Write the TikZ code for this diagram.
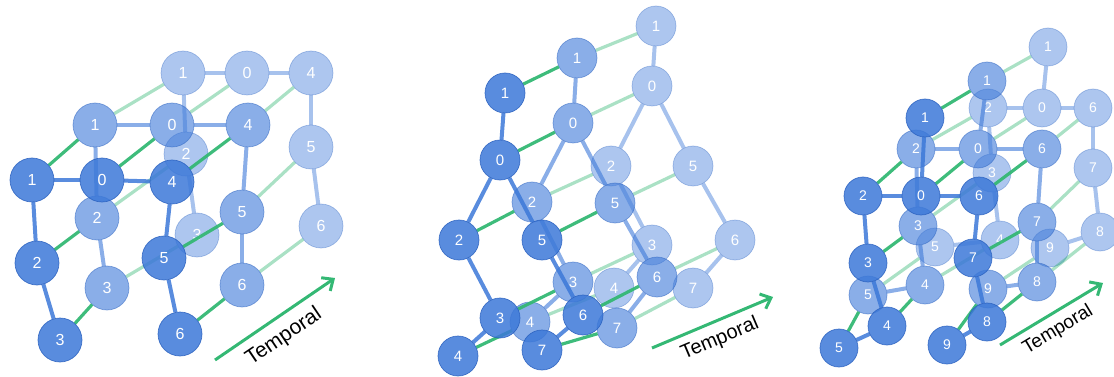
\documentclass[tikz,border=0pt]{standalone}
\usepackage{fontspec}
\setmainfont{Liberation Sans}
\usetikzlibrary{arrows.meta}
\definecolor{nblue}{RGB}{60,120,216}
\definecolor{oblue}{RGB}{40,95,190}
\definecolor{tgreen}{RGB}{52,184,116}
\tikzset{
  nd/.style={circle, inner sep=0pt, text=white, text opacity=1, fill=nblue, draw=oblue, line width=0.7pt},
  hid/.style={circle, inner sep=0pt, draw=none, fill=none},
  pa/.style={minimum size=44pt, font=\fontsize{16}{16}\selectfont},
  pb/.style={minimum size=40pt, font=\fontsize{15}{15}\selectfont},
  pc/.style={minimum size=38pt, font=\fontsize{14}{14}\selectfont},
  lone/.style={fill opacity=0.85, draw opacity=0.8},
  ltwo/.style={fill opacity=0.6, draw opacity=0.5},
  lthree/.style={fill opacity=0.42, draw opacity=0.35},
  eone/.style={draw=nblue, line width=4pt, draw opacity=0.85},
  etwo/.style={draw=nblue, line width=4pt, draw opacity=0.6},
  ethree/.style={draw=nblue, line width=4pt, draw opacity=0.45},
  tone/.style={draw=tgreen, line width=3.2pt, draw opacity=0.95},
  ttwo/.style={draw=tgreen, line width=3.2pt, draw opacity=0.42},
  tarrow/.style={draw=tgreen, line width=3pt, -{Straight Barb[length=9pt,width=16pt,line width=3pt]}},
  tlabel/.style={text=black, inner sep=0pt}
}
\begin{document}
\begin{tikzpicture}[x=1pt,y=-1pt]
\useasboundingbox (0,0) rectangle (1114,377);
% ================= Panel A =================
\foreach \n/\x/\y in {1/183/73,0/247/73,4/311/73,2/186/154,5/311/147,3/197/235,6/321/226}
  \node[hid,pa] (a3n\n) at (\x,\y) {};
\foreach \u/\v in {1/0,0/4,1/2,2/3,4/5,5/6} \draw[ethree] (a3n\u) -- (a3n\v);
\foreach \n/\x/\y in {1/183/73,0/247/73,4/311/73,2/186/154,5/311/147,3/197/235,6/321/226}
  \node[nd,pa,lthree] (a3v\n) at (\x,\y) {\n};
\foreach \n/\x/\y in {1/95/125,0/172/125,4/248/125,2/97/218,5/242/212,3/107/288,6/242/285}
  \node[hid,pa] (a2n\n) at (\x,\y) {};
\foreach \i in {0,...,6} \draw[ttwo] (a2n\i) -- (a3n\i);
\foreach \u/\v in {1/0,0/4,1/2,2/3,4/5,5/6} \draw[etwo] (a2n\u) -- (a2n\v);
\foreach \n/\x/\y in {1/95/125,0/172/125,4/248/125,2/97/218,5/242/212,3/107/288,6/242/285}
  \node[nd,pa,ltwo] (a2v\n) at (\x,\y) {\n};
\foreach \n/\x/\y in {1/32/180,0/102/180,4/172/182,2/37/263,5/164/258,3/60/340,6/180/334}
  \node[hid,pa] (a1n\n) at (\x,\y) {};
\foreach \i in {0,...,6} \draw[tone] (a1n\i) -- (a2n\i);
\foreach \u/\v in {1/0,0/4,1/2,2/3,4/5,5/6} \draw[eone] (a1n\u) -- (a1n\v);
\foreach \n/\x/\y in {1/32/180,0/102/180,4/172/182,2/37/263,5/164/258,3/60/340,6/180/334}
  \node[nd,pa,lone] (a1v\n) at (\x,\y) {\n};
\coordinate (aas) at (215,360);
\coordinate (aae) at (335,278);
\draw[tarrow] (aas) -- (aae);
\node[tlabel, rotate=34, font=\fontsize{21}{21}\selectfont] (atl) at (284,337) {Temporal};
% ================= Panel B =================
\foreach \n/\x/\y in {1/656/26,0/652/86,2/611/166,5/693/166,3/652/245,6/735/240,4/614/288,7/693/288}
  \node[hid,pb] (b3n\n) at (\x,\y) {};
\foreach \u/\v in {1/0,0/2,0/5,2/3,5/6,3/4,6/7} \draw[ethree] (b3n\u) -- (b3n\v);
\foreach \n/\x/\y in {1/656/26,0/652/86,2/611/166,5/693/166,3/652/245,6/735/240,4/614/288,7/693/288}
  \node[nd,pb,lthree] (b3v\n) at (\x,\y) {\n};
\foreach \n/\x/\y in {1/577/58,0/573/123,2/532/202,5/615/203,3/573/282,6/657/277,4/530/322,7/617/328}
  \node[hid,pb] (b2n\n) at (\x,\y) {};
\foreach \i in {0,...,7} \draw[ttwo] (b2n\i) -- (b3n\i);
\foreach \u/\v in {1/0,0/2,0/5,2/3,5/6,3/4,6/7} \draw[etwo] (b2n\u) -- (b2n\v);
\foreach \n/\x/\y in {1/577/58,0/573/123,2/532/202,5/615/203,3/573/282,6/657/277,4/530/322,7/617/328}
  \node[nd,pb,ltwo] (b2v\n) at (\x,\y) {\n};
\foreach \n/\x/\y in {1/505/93,0/500/160,2/459/240,5/542/240,3/500/318,6/583/315,4/458/356,7/542/350}
  \node[hid,pb] (b1n\n) at (\x,\y) {};
\foreach \i in {0,...,7} \draw[tone] (b1n\i) -- (b2n\i);
\foreach \u/\v in {1/0,0/2,0/5,2/3,5/6,3/4,6/7} \draw[eone] (b1n\u) -- (b1n\v);
\foreach \n/\x/\y in {1/505/93,0/500/160,2/459/240,5/542/240,3/500/318,6/583/315,4/458/356,7/542/350}
  \node[nd,pb,lone] (b1v\n) at (\x,\y) {\n};
\coordinate (bas) at (652,348);
\coordinate (bae) at (773,297);
\draw[tarrow] (bas) -- (bae);
\node[tlabel, rotate=23, font=\fontsize{20}{20}\selectfont] (btl) at (720,339) {Temporal};
% ================= Panel C =================
\foreach \n/\x/\y in {1/1048/47,2/988/108,0/1042/108,6/1093/108,3/992/173,7/1093/168,4/1000/240,5/935/247,8/1100/232,9/1050/248}
  \node[hid,pc] (c3n\n) at (\x,\y) {};
\foreach \u/\v in {1/0,2/0,0/6,2/3,3/4,4/5,6/7,7/8,8/9} \draw[ethree] (c3n\u) -- (c3n\v);
\foreach \n/\x/\y in {1/1048/47,2/988/108,0/1042/108,6/1093/108,3/992/173,7/1093/168,4/1000/240,5/935/247,8/1100/232,9/1050/248}
  \node[nd,pc,lthree] (c3v\n) at (\x,\y) {\n};
\foreach \n/\x/\y in {1/987/81,2/916/149,0/978/149,6/1042/149,3/918/226,7/1037/222,4/925/285,5/868/295,8/1037/282,9/988/289}
  \node[hid,pc] (c2n\n) at (\x,\y) {};
\foreach \i in {0,...,9} \draw[ttwo] (c2n\i) -- (c3n\i);
\foreach \u/\v in {1/0,2/0,0/6,2/3,3/4,4/5,6/7,7/8,8/9} \draw[etwo] (c2n\u) -- (c2n\v);
\foreach \n/\x/\y in {1/987/81,2/916/149,0/978/149,6/1042/149,3/918/226,7/1037/222,4/925/285,5/868/295,8/1037/282,9/988/289}
  \node[nd,pc,ltwo] (c2v\n) at (\x,\y) {\n};
\foreach \n/\x/\y in {1/925/118,2/863/196,0/921/196,6/979/196,3/868/263,7/973/258,4/887/326,5/839/348,8/987/322,9/947/345}
  \node[hid,pc] (c1n\n) at (\x,\y) {};
\foreach \i in {0,...,9} \draw[tone] (c1n\i) -- (c2n\i);
\foreach \u/\v in {1/0,2/0,0/6,2/3,3/4,4/5,6/7,7/8,8/9} \draw[eone] (c1n\u) -- (c1n\v);
\foreach \n/\x/\y in {1/925/118,2/863/196,0/921/196,6/979/196,3/868/263,7/973/258,4/887/326,5/839/348,8/987/322,9/947/345}
  \node[nd,pc,lone] (c1v\n) at (\x,\y) {\n};
\coordinate (cas) at (1000,345);
\coordinate (cae) at (1103,283);
\draw[tarrow] (cas) -- (cae);
\node[tlabel, rotate=31, font=\fontsize{19}{19}\selectfont] (ctl) at (1058,330) {Temporal};
\end{tikzpicture}
\end{document}
